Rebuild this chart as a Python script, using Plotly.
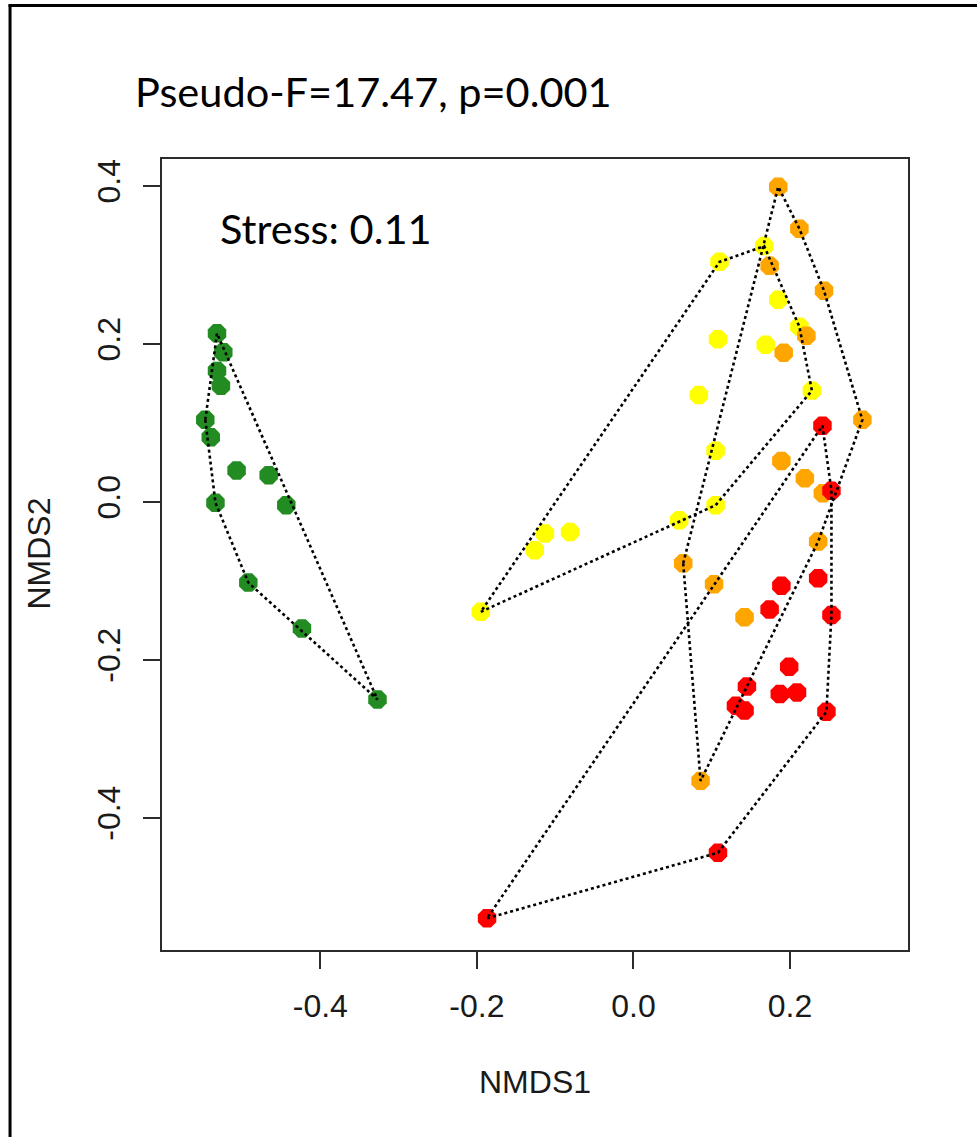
import plotly.graph_objects as go

# NMDS site scores per group (NMDS1, NMDS2)
green_x = [-0.532, -0.524, -0.532, -0.527, -0.547, -0.540, -0.507, -0.466, -0.534, -0.4435, -0.492, -0.4235, -0.327]
green_y = [0.2135, 0.1895, 0.166, 0.147, 0.104, 0.082, 0.040, 0.034, -0.001, -0.004, -0.102, -0.160, -0.250]

yellow_x = [0.167, 0.110, 0.185, 0.212, 0.108, 0.169, 0.0836, 0.228, 0.105, 0.105, 0.0585, -0.113, -0.081, -0.126, -0.195]
yellow_y = [0.324, 0.304, 0.256, 0.222, 0.206, 0.199, 0.1354, 0.141, 0.065, -0.004, -0.023, -0.040, -0.038, -0.061, -0.139]

orange_x = [0.185, 0.212, 0.174, 0.2435, 0.221, 0.192, 0.2925, 0.189, 0.219, 0.242, 0.236, 0.0636, 0.103, 0.142, 0.0858]
orange_y = [0.399, 0.346, 0.299, 0.2675, 0.2105, 0.189, 0.104, 0.052, 0.030, 0.011, -0.050, -0.0776, -0.104, -0.146, -0.353]

red_x = [0.2415, 0.253, 0.236, 0.189, 0.174, 0.253, 0.199, 0.145, 0.187, 0.209, 0.131, 0.142, 0.2466, 0.108, -0.187]
red_y = [0.0966, 0.0143, -0.0966, -0.106, -0.136, -0.143, -0.2085, -0.2335, -0.243, -0.241, -0.258, -0.264, -0.2654, -0.444, -0.527]

x_ticks = [-0.4, -0.2, 0.0, 0.2]
y_ticks = [-0.4, -0.2, 0.0, 0.2, 0.4]

title_text = "Pseudo-F=17.47, p=0.001"
stress_text = "Stress: 0.11"

groups = [
    (green_x, green_y, "#228B22"),
    (yellow_x, yellow_y, "#FFFF00"),
    (orange_x, orange_y, "#FFA500"),
    (red_x, red_y, "#FF0000"),
]


def convex_hull(xs, ys):
    """Monotone-chain convex hull, returned as a closed ring."""
    pts = sorted(set(zip(xs, ys)))

    def cross(o, a, b):
        return (a[0] - o[0]) * (b[1] - o[1]) - (a[1] - o[1]) * (b[0] - o[0])

    lower, upper = [], []
    for p in pts:
        while len(lower) >= 2 and cross(lower[-2], lower[-1], p) <= 0:
            lower.pop()
        lower.append(p)
    for p in reversed(pts):
        while len(upper) >= 2 and cross(upper[-2], upper[-1], p) <= 0:
            upper.pop()
        upper.append(p)
    ring = lower[:-1] + upper[:-1]
    ring.append(ring[0])
    return [p[0] for p in ring], [p[1] for p in ring]


# Figure geometry (pixels)
W, H = 977, 1137
PL, PR, PT, PB = 161.6, 908.3, 159.0, 950.0

fig = go.Figure()

for gx, gy, col in groups:
    fig.add_trace(go.Scatter(
        x=gx, y=gy, mode="markers",
        marker=dict(symbol="octagon", size=20, color=col, line=dict(width=0)),
        showlegend=False, hoverinfo="skip",
    ))

for gx, gy, col in groups:
    hx, hy = convex_hull(gx, gy)
    fig.add_trace(go.Scatter(
        x=hx, y=hy, mode="lines",
        line=dict(color="black", width=2.6, dash="dot"),
        showlegend=False, hoverinfo="skip",
    ))


def px_x(p):
    return (p - PL) / (PR - PL)


def px_y(p):
    return (PB - p) / (PB - PT)


axis_col = "#2b2b2b"
tick_font = dict(family="Liberation Sans, Arial, sans-serif", size=32, color="#1a1a1a")

fig.update_xaxes(
    range=[-0.6023, 0.3508], tickvals=x_ticks, ticktext=["-0.4", "-0.2", "0.0", "0.2"],
    showgrid=False, zeroline=False, showline=True, mirror=True,
    linecolor=axis_col, linewidth=2, ticks="outside", ticklen=17, tickwidth=2,
    tickcolor=axis_col, tickfont=tick_font, ticklabelstandoff=10,
)
fig.update_yaxes(
    range=[-0.5671, 0.4342], tickvals=y_ticks, ticktext=["-0.4", "-0.2", "0.0", "0.2", "0.4"],
    showgrid=False, zeroline=False, showline=True, mirror=True,
    linecolor=axis_col, linewidth=2, ticks="outside", ticklen=17, tickwidth=2,
    tickcolor=axis_col, tickfont=tick_font, tickangle=-90, ticklabelstandoff=10,
)

label_font = dict(family="Liberation Sans, Arial, sans-serif", size=32, color="#1a1a1a")
text_font = dict(family="Lato, Open Sans, sans-serif", size=41.5, color="black")

annotations = [
    dict(text="NMDS1", x=px_x(534.5), y=px_y(1082), xref="paper", yref="paper",
         xanchor="center", yanchor="middle", showarrow=False, font=label_font),
    dict(text="NMDS2", x=px_x(38), y=px_y(554), xref="paper", yref="paper",
         xanchor="center", yanchor="middle", showarrow=False, font=label_font, textangle=-90),
    dict(text=title_text, x=px_x(133), y=px_y(91), xref="paper", yref="paper",
         xanchor="left", yanchor="middle", showarrow=False, font=text_font),
    dict(text=stress_text, x=px_x(218), y=px_y(228), xref="paper", yref="paper",
         xanchor="left", yanchor="middle", showarrow=False, font=text_font),
]

# Outer frame: left and top edges of the surrounding box
shapes = [
    dict(type="line", xref="paper", yref="paper", x0=px_x(9.5), x1=px_x(9.5),
         y0=px_y(4.5), y1=px_y(H + 5), line=dict(color="black", width=3)),
    dict(type="line", xref="paper", yref="paper", x0=px_x(8), x1=px_x(W + 5),
         y0=px_y(5.5), y1=px_y(5.5), line=dict(color="black", width=3)),
]

fig.update_layout(
    width=W, height=H,
    margin=dict(l=PL, r=W - PR, t=PT, b=H - PB, pad=0),
    paper_bgcolor="white", plot_bgcolor="white",
    annotations=annotations, shapes=shapes,
    showlegend=False,
)

fig.write_html("out.html")
